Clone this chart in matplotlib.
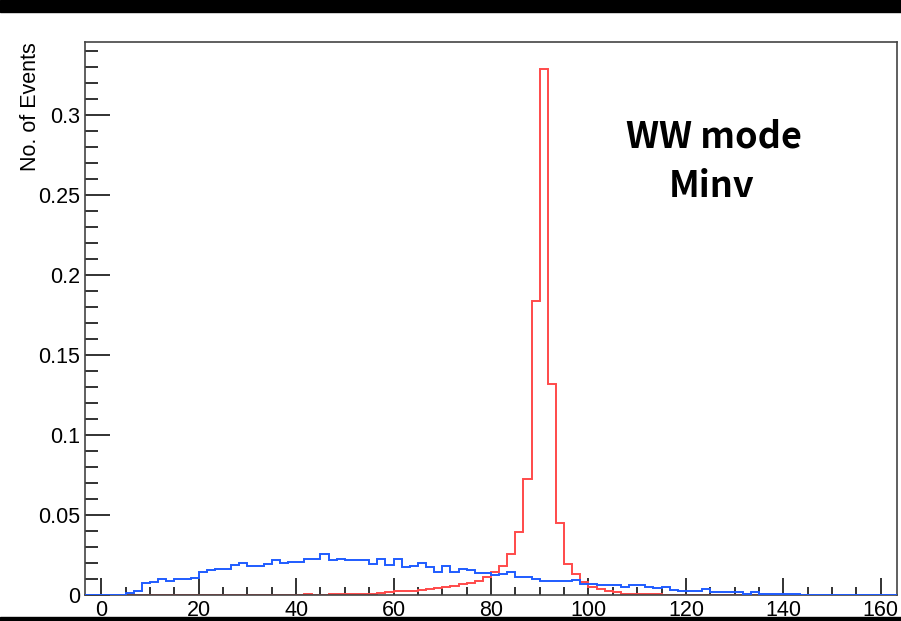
import numpy as np
import matplotlib
matplotlib.use("Agg")
import matplotlib.pyplot as plt
from matplotlib.patches import Rectangle
from matplotlib.ticker import MultipleLocator

OUT_PNG = "out.png"

# 100 bins between -10/3 and 490/3 (bin width 5/3)
X_LO = -10.0 / 3.0
X_HI = 500.0 / 3.0 - 10.0 / 3.0
N_BINS = 100

# blue histogram (broad distribution)
blue_vals = [
    0, 0, 0, 0, 0, 0.0013, 0.0028, 0.0072, 0.0084, 0.0100,
    0.0090, 0.0100, 0.0102, 0.0108, 0.0145, 0.0156, 0.0165, 0.0165, 0.0189, 0.0202,
    0.0184, 0.0184, 0.0193, 0.0220, 0.0202, 0.0208, 0.0208, 0.0228, 0.0228, 0.0255,
    0.0220, 0.0228, 0.0220, 0.0220, 0.0220, 0.0193, 0.0228, 0.0186, 0.0228, 0.0172,
    0.0182, 0.0202, 0.0176, 0.0142, 0.0182, 0.0145, 0.0165, 0.0155, 0.0136, 0.0136,
    0.0128, 0.0134, 0.0142, 0.0110, 0.0110, 0.0101, 0.0090, 0.0090, 0.0086, 0.0086,
    0.0093, 0.0070, 0.0068, 0.0065, 0.0065, 0.0065, 0.0053, 0.0065, 0.0065, 0.0049,
    0.0045, 0.0050, 0.0034, 0.0028, 0.0028, 0.0028, 0.0036, 0.0018, 0.0018, 0.0018,
    0.0018, 0.0008, 0.0016, 0.0007, 0.0007, 0.0007, 0.0007, 0.0007, 0, 0,
    0, 0, 0, 0, 0, 0, 0, 0, 0, 0,
]

# red histogram (peak near the W mass)
red_vals = [
    0, 0, 0, 0, 0, 0, 0, 0, 0, 0,
    0, 0, 0, 0, 0, 0, 0, 0, 0, 0,
    0, 0, 0, 0, 0, 0, 0, 0.0007, 0, 0,
    0.0006, 0.0006, 0.0006, 0.0006, 0.0006, 0.0006, 0.0015, 0.0018, 0.0022, 0.0026,
    0.0027, 0.0034, 0.0040, 0.0043, 0.0052, 0.0056, 0.0068, 0.0076, 0.0086, 0.0111,
    0.0145, 0.0184, 0.0257, 0.0393, 0.0726, 0.1840, 0.3290, 0.1320, 0.0449, 0.0195,
    0.0130, 0.0080, 0.0050, 0.0035, 0.0028, 0.0018, 0.0008, 0.0007, 0.0007, 0.0006,
    0.0006, 0, 0, 0, 0, 0, 0, 0, 0, 0,
    0, 0, 0, 0, 0, 0, 0, 0, 0, 0,
    0, 0, 0, 0, 0, 0, 0, 0, 0, 0,
]

x_ticks = [0, 20, 40, 60, 80, 100, 120, 140, 160]
y_ticks = [0, 0.05, 0.1, 0.15, 0.2, 0.25, 0.3]
y_tick_labels = ["0", "0.05", "0.1", "0.15", "0.2", "0.25", "0.3"]

edges = np.linspace(X_LO, X_HI, N_BINS + 1)

plt.rcParams["font.family"] = ["Liberation Sans", "DejaVu Sans"]

fig = plt.figure(figsize=(9.01, 6.21), dpi=100)
ax = fig.add_axes([85 / 901, 26 / 621, 812 / 901, 553 / 621])

# red drawn below the axis line, blue on top of it (like ROOT "same")
ax.stairs(red_vals, edges, color="#ff4a4a", lw=1.4, zorder=2)
ax.stairs(blue_vals, edges, color="#1f5cff", lw=1.4, zorder=3)

ax.set_xlim(X_LO, X_HI)
ax.set_ylim(0, 0.3456)

ax.set_xticks(x_ticks)
ax.set_xticklabels([str(t) for t in x_ticks])
ax.xaxis.set_minor_locator(MultipleLocator(5))
ax.set_yticks(y_ticks)
ax.set_yticklabels(y_tick_labels)
ax.yaxis.set_minor_locator(MultipleLocator(0.01))

ax.tick_params(axis="both", which="both", direction="in", colors="#222222",
               labelcolor="black", labelsize=15.5, width=1.3)
ax.tick_params(axis="x", which="major", length=12, pad=3.5)
ax.tick_params(axis="x", which="minor", length=5.5)
ax.tick_params(axis="y", which="major", length=18, pad=3.5)
ax.tick_params(axis="y", which="minor", length=9)
ax.tick_params(top=False, right=False)

for sp in ax.spines.values():
    sp.set_color("#444444")
    sp.set_linewidth(1.2)

fig.text(31 / 901, 1 - 42 / 621, "No. of Events", rotation=90,
         ha="center", va="top", fontsize=15.5)

ax.text(0.775, 0.828, "WW mode", transform=ax.transAxes, ha="center",
        va="center", fontsize=26, fontweight="bold",
        family=["Noto Sans CJK JP", "DejaVu Sans"])
t2 = ax.text(0.772, 0.738, "Minv", transform=ax.transAxes, ha="center",
             va="center", fontsize=26, fontweight="bold",
             family=["Noto Sans CJK JP", "DejaVu Sans"])
clip = Rectangle((0, 0), 1, (595 - 200) / 553, transform=ax.transAxes)
t2.set_clip_path(clip)

# black bands at top and bottom
fig.add_artist(Rectangle((0, 1 - 12 / 621), 1, 12 / 621,
                         transform=fig.transFigure, color="black", zorder=10))
fig.add_artist(Rectangle((0, 0), 1, 4 / 621,
                         transform=fig.transFigure, color="black", zorder=10))

fig.savefig(OUT_PNG, dpi=100)
